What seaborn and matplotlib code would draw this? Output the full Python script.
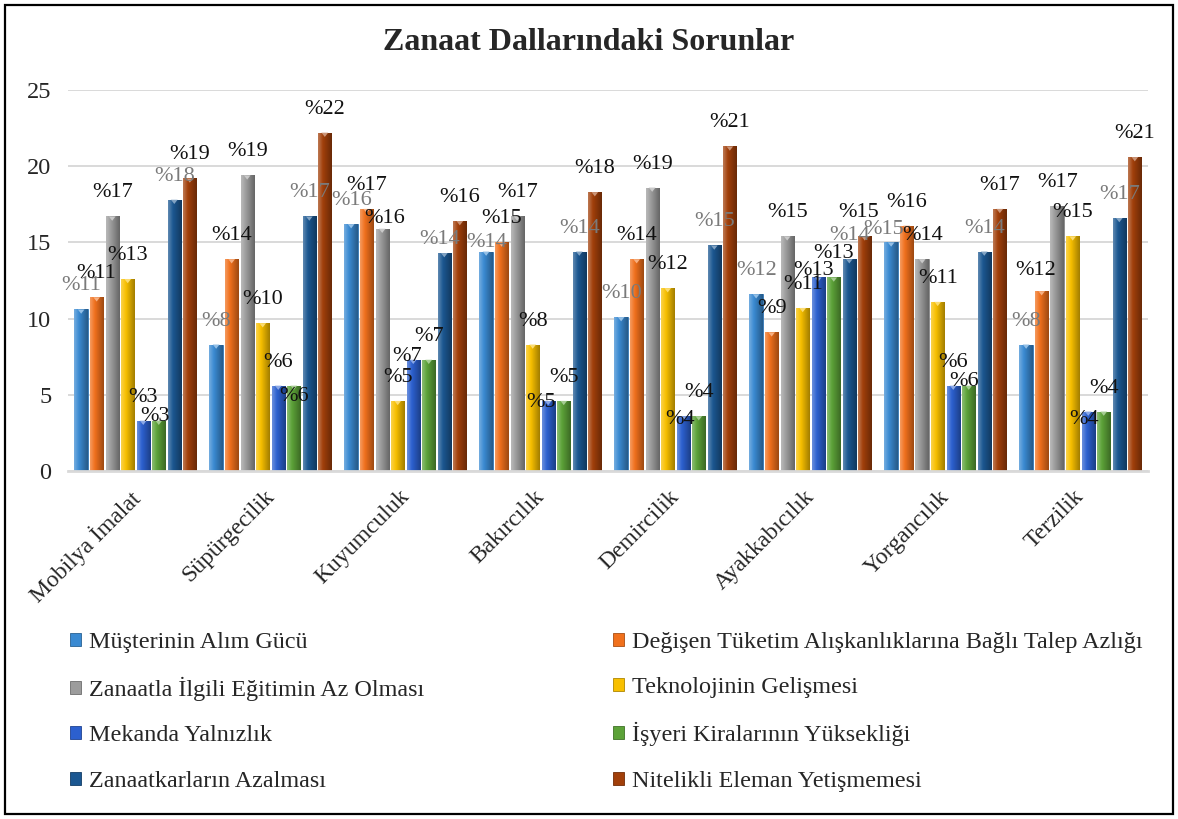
import numpy as np
import pandas as pd
import matplotlib
matplotlib.use("Agg")
import matplotlib.pyplot as plt
import seaborn as sns
from matplotlib.colors import LinearSegmentedColormap, to_rgb
from matplotlib.patches import Patch, Rectangle, Polygon
from matplotlib.transforms import ScaledTranslation

# ---- data -------------------------------------------------------------
dallar = ["Mobilya İmalat", "Süpürgecilik", "Kuyumculuk", "Bakırcılık",
          "Demircilik", "Ayakkabıcılık", "Yorgancılık", "Terzilik"]

sorunlar = ["Müşterinin Alım Gücü",
            "Değişen Tüketim Alışkanlıklarına Bağlı Talep Azlığı",
            "Zanaatla İlgili Eğitimin Az Olması",
            "Teknolojinin Gelişmesi",
            "Mekanda Yalnızlık",
            "İşyeri Kiralarının Yüksekliği",
            "Zanaatkarların Azalması",
            "Nitelikli Eleman Yetişmemesi"]

musteri_alim_gucu = [10.6, 8.3, 16.2, 14.4, 10.1, 11.6, 15.0, 8.3]
talep_azligi      = [11.4, 13.9, 17.2, 15.0, 13.9, 9.1, 16.1, 11.8]
egitim_azligi     = [16.7, 19.4, 15.9, 16.7, 18.6, 15.4, 13.9, 17.4]
teknoloji         = [12.6, 9.7, 4.6, 8.3, 12.0, 10.7, 11.1, 15.4]
mekanda_yalnizlik = [3.3, 5.6, 7.3, 4.6, 3.6, 12.7, 5.6, 3.9]
isyeri_kiralari   = [3.3, 5.6, 7.3, 4.6, 3.6, 12.7, 5.6, 3.9]
zanaatkar_azalma  = [17.8, 16.7, 14.3, 14.4, 14.8, 13.9, 14.4, 16.6]
nitelikli_eleman  = [19.2, 22.2, 16.4, 18.3, 21.3, 15.4, 17.2, 20.6]

seriler = [musteri_alim_gucu, talep_azligi, egitim_azligi, teknoloji,
           mekanda_yalnizlik, isyeri_kiralari, zanaatkar_azalma, nitelikli_eleman]

y_ticks = [0, 5, 10, 15, 20, 25]

# ---- styling ----------------------------------------------------------
renkler = ["#3a8ad2", "#f0701c", "#9c9c9c", "#f8c000",
           "#2c60cf", "#5ca238", "#1b5791", "#a13f0a"]
etiket_renkleri = ["#7a7a7a", "#111111", "#111111", "#111111",
                   "#111111", "#111111", "#7a7a7a", "#111111"]

# label placement (dx, dy up) in pixels relative to the bar's top centre
varsayilan_konum = (0, 23.5)
etiket_kaydirma = {
    (0, 5): (-4, 4.5), (1, 5): (0, -11), (2, 2): (2, 10), (2, 4): (-6.5, 3.5),
    (2, 6): (-5, 13.5), (3, 0): (0, 9), (3, 4): (-7, -2), (4, 4): (-3, -3.5),
    (5, 4): (-5, 6.5), (5, 7): (-6.5, 23.5), (6, 0): (-7.5, 12.5),
    (6, 5): (-5, 4), (7, 1): (-6.5, 21), (7, 4): (-4.5, -7.5),
}

sns.set_theme(style="white")
plt.rcParams["font.family"] = ["Liberation Serif", "DejaVu Serif"]

df = pd.DataFrame({
    "Dal": np.tile(dallar, len(sorunlar)),
    "Sorun": np.repeat(sorunlar, len(dallar)),
    "Oran": np.concatenate(seriler),
})

fig = plt.figure(figsize=(11.78, 8.19), dpi=100)
ax = fig.add_axes([0.0577, 0.4249, 0.9168, 0.4652])

sns.barplot(data=df, x="Dal", y="Oran", hue="Sorun", order=dallar,
            hue_order=sorunlar, palette=renkler, width=0.92, gap=0.14,
            errorbar=None, legend=False, ax=ax, zorder=2)


def mix(c, other, t):
    c = np.array(to_rgb(c)); o = np.array(to_rgb(other))
    return tuple(c * (1 - t) + o * t)


# shaded, bevelled bars
for i, (cont, renk) in enumerate(zip(ax.containers, renkler)):
    cmap = LinearSegmentedColormap.from_list(
        f"g{i}", [(0, mix(renk, "white", 0.30)), (0.35, to_rgb(renk)),
                  (1.0, mix(renk, "black", 0.35))])
    grad = np.linspace(0, 1, 64)[np.newaxis, :]
    for bar in cont:
        x0, y0 = bar.get_x(), bar.get_y()
        w, h = bar.get_width(), bar.get_height()
        im = ax.imshow(grad, extent=(x0, x0 + w, y0, y0 + h), aspect="auto",
                       cmap=cmap, interpolation="bicubic", zorder=2.1)
        im.set_clip_path(bar)
        bar.set_edgecolor(mix(renk, "black", 0.15))
        bar.set_linewidth(0.6)
        # small bevel triangle at the top of each bar
        tri_h = 0.28
        tri = Polygon([(x0 + w * 0.25, y0 + h), (x0 + w * 0.75, y0 + h),
                       (x0 + w * 0.5, y0 + h - tri_h)], closed=True,
                      facecolor=mix(renk, "white", 0.45), edgecolor="none",
                      zorder=2.2)
        ax.add_patch(tri)

# data labels
for s_idx, (cont, vals) in enumerate(zip(ax.containers, seriler)):
    for c_idx, (bar, v) in enumerate(zip(cont, vals)):
        dx, dy = etiket_kaydirma.get((c_idx, s_idx), varsayilan_konum)
        ax.annotate(f"%{v:.0f}", xy=(bar.get_x() + bar.get_width() / 2, v),
                    xytext=(dx, dy), textcoords="offset pixels",
                    ha="center", va="center", fontsize=16,
                    color=etiket_renkleri[s_idx], zorder=5)

ax.set_xlim(-0.5, len(dallar) - 0.5)
ax.set_ylim(0, 25)
ax.set_yticks(y_ticks)
ax.set_yticklabels([str(t) for t in y_ticks], fontsize=17.5)
ax.yaxis.grid(True, color="#d9d9d9", linewidth=1.4, zorder=0)
ax.set_axisbelow(True)
for side in ["top", "right", "left"]:
    ax.spines[side].set_visible(False)
ax.spines["bottom"].set_color("#d9d9d9")
ax.spines["bottom"].set_linewidth(2)
ax.tick_params(axis="y", length=0, pad=12)
ax.tick_params(axis="x", length=0, pad=8)
ax.set_xlabel("")
ax.set_ylabel("")
kayma = ScaledTranslation(-7 / 100, -4 / 100, fig.dpi_scale_trans)
for lbl in ax.get_xticklabels():
    lbl.set_rotation(45)
    lbl.set_ha("right")
    lbl.set_rotation_mode("anchor")
    lbl.set_fontsize(17)
    lbl.set_transform(lbl.get_transform() + kayma)

fig.text(0.5, 1 - 42 / 819, "Zanaat Dallarındaki Sorunlar", ha="center",
         va="center", fontsize=23, fontweight="bold")

# legend: row-major order in two columns
handles = [Patch(facecolor=r, edgecolor=mix(r, "black", 0.3), linewidth=0.6)
           for r in renkler]
sira = [0, 2, 4, 6, 1, 3, 5, 7]
fig.legend([handles[k] for k in sira], [sorunlar[k] for k in sira],
           loc="upper left", bbox_to_anchor=(70 / 1178, 1 - 632 / 819),
           ncol=2, frameon=False, fontsize=17.4, handlelength=0.45,
           handleheight=0.45, handletextpad=0.35, columnspacing=7.8,
           labelspacing=1.0, borderpad=0, borderaxespad=0)

fig.patches.append(Rectangle((5 / 1178, 5 / 819), 1 - 10 / 1178, 1 - 10 / 819,
                             transform=fig.transFigure, fill=False,
                             edgecolor="black", linewidth=1.6))

fig.savefig("out.png", dpi=100)
